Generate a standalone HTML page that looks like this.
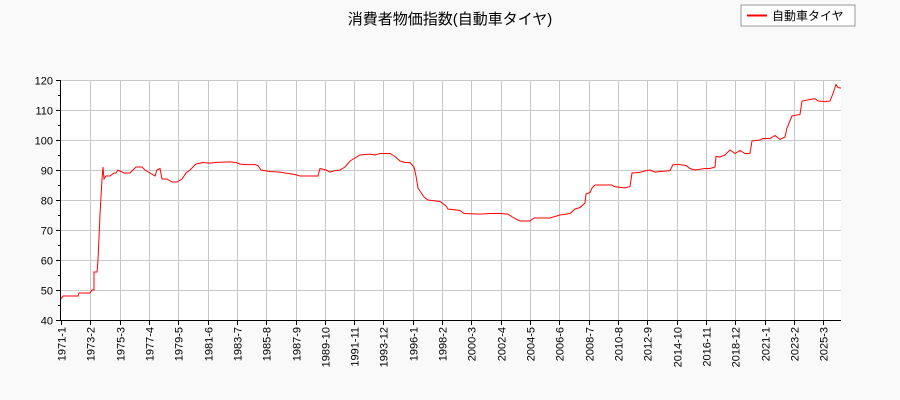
<!DOCTYPE html>
<html><head><meta charset="utf-8"><style>
body{margin:0;background:#f9f9f9;}
svg{display:block;font-family:"Liberation Sans","Noto Sans CJK JP",sans-serif;}
</style></head><body>
<svg width="900" height="400" xmlns="http://www.w3.org/2000/svg">
<rect width="900" height="400" fill="#f9f9f9"/>
<rect x="61" y="80" width="780" height="240" fill="#fff"/>
<g id="grid" stroke="#c8c8c8" stroke-width="1"></g>
<polyline id="line" fill="none" stroke="#ff0000" stroke-width="1"/>
<g id="axes" stroke="#000" stroke-width="1"></g>
<g id="lbl" font-size="11" fill="#000"></g>
<text x="450" y="24" font-size="15" text-anchor="middle">消費者物価指数(自動車タイヤ)</text>
<rect x="741" y="5" width="114" height="21" fill="#fff" stroke="#999"/>
<line x1="747" y1="15.5" x2="767" y2="15.5" stroke="#f00" stroke-width="2"/>
<text x="772" y="20" font-size="12">自動車タイヤ</text>
</svg>
<script>
const ns="http://www.w3.org/2000/svg";
const g=document.getElementById('grid'),ax=document.getElementById('axes'),lb=document.getElementById('lbl');
function el(p,t,a){const e=document.createElementNS(ns,t);for(const k in a)e.setAttribute(k,a[k]);p.appendChild(e);return e;}
for(let v=40;v<=120;v+=10){const y=320-(v-40)*3+0.5;
 el(g,'line',{x1:61,x2:841,y1:y,y2:y});
 el(ax,'line',{x1:56,x2:61,y1:y,y2:y});
 const t=el(lb,'text',{x:53,y:y+4,'text-anchor':'end'});t.textContent=v;}
for(let v=45;v<120;v+=10){const y=320-(v-40)*3+0.5;el(ax,'line',{x1:58,x2:61,y1:y,y2:y});}
const labs=["1971-1","1973-2","1975-3","1977-4","1979-5","1981-6","1983-7","1985-8","1987-9","1989-10","1991-11","1993-12","1996-1","1998-2","2000-3","2002-4","2004-5","2006-6","2008-7","2010-8","2012-9","2014-10","2016-11","2018-12","2021-1","2023-2","2025-3"];
labs.forEach((s,i)=>{const x=Math.round(61+i*25*1.1727)+0.5;
 if(i>0)el(g,'line',{x1:x,x2:x,y1:80,y2:320});
 el(ax,'line',{x1:x,x2:x,y1:320,y2:325});
 const t=el(lb,'text',{x:0,y:0,'text-anchor':'end',transform:`translate(${x+4},${327}) rotate(-90)`});t.textContent=s;});
el(ax,'line',{x1:60.5,x2:60.5,y1:80,y2:320});
el(ax,'line',{x1:60,x2:841,y1:320.5,y2:320.5});
const d=[61,47,63,48,78,48,79,49,90,49,92,50,94,50,94,56,97,56,98,60,100,75,102,87,103,91,104,87,106,88,110,88,114,89,116,89,118,90,124,89,130,89,133,90,136,91,142,91,145,90,150,89,155,88,157,90,160,90.5,162,87,167,87,172,86,177,86,182,87,186,89,190,90,193,91,196,92,203,92.5,210,92.3,215,92.5,220,92.6,230,92.7,236,92.5,240,92,245,91.8,255,91.8,258,91.5,261,90,270,89.5,280,89.3,285,89,295,88.5,300,88,318,88,320,90.5,326,90,330,89.3,334,89.7,340,90,345,91,350,93,355,94,360,95,370,95.3,375,95,380,95.5,390,95.5,395,94.5,400,93,405,92.5,410,92.5,414,91,416,88,418,84,420,83,424,81,428,80,440,79.5,446,78,448,77,460,76.5,464,75.5,480,75.3,490,75.5,500,75.5,508,75.3,514,74,517,73.5,520,73,530,73,534,74,540,74,550,74,560,75,570,75.5,575,77,580,77.5,585,79,586,82,590,82.5,592,84,595,85,600,85,612,85,614,84.5,625,84,630,84.5,632,89,640,89.2,645,89.7,650,90,655,89.3,660,89.5,670,89.8,673,91.8,680,91.8,686,91.5,690,90.5,695,90,705,90.5,710,90.5,715,91,716,94.5,720,94.3,725,95,730,96.7,735,95.5,740,96.5,745,95.5,750,95.5,752,99.7,760,100,763,100.5,770,100.5,775,101.5,780,100.2,785,101,787,104,792,108,800,108.5,802,113,810,113.5,815,113.8,818,113,825,112.8,830,113,833,115.5,836,118.5,838,117.5,841,117.3];
let pts=[];for(let i=0;i<d.length;i+=2)pts.push(d[i]+","+(320-(d[i+1]-40)*3).toFixed(1));
document.getElementById('line').setAttribute('points',pts.join(' '));
</script>
</body></html>
